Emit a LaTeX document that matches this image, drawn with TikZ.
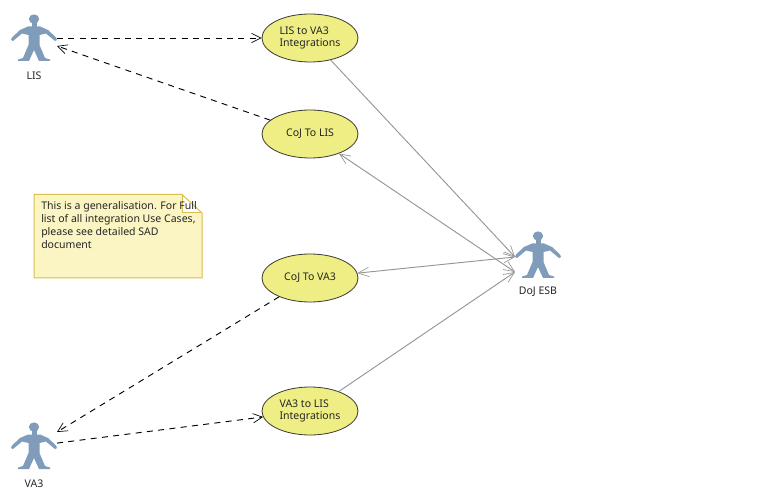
\documentclass[tikz,border=0pt]{standalone}
\usepackage{fontspec}
\setmainfont{Noto Sans}
\definecolor{ucfill}{HTML}{EFEE84}
\definecolor{ucline}{HTML}{3A3A30}
\definecolor{actorc}{HTML}{7F9DBB}
\definecolor{notefill}{HTML}{FBF5C4}
\definecolor{noteline}{HTML}{D9BF4E}
\definecolor{linkc}{HTML}{969696}
\tikzset{
  x=0.75pt,y=-0.75pt,
  uc/.style={ellipse,draw=ucline,line width=0.6pt,fill=ucfill,minimum width=72pt,minimum height=36pt,inner sep=0pt,align=left,font=\fontsize{7.9}{9.7}\selectfont,text=black!85},
  uctext/.style={inner sep=0pt,align=left,font=\fontsize{7.9}{9.7}\selectfont,text=black!85},
  actorbox/.style={rectangle,minimum width=34.5pt,minimum height=34.5pt,inner sep=0pt,outer sep=0pt},
  lbl/.style={font=\fontsize{7.9}{9}\selectfont,text=black!85,inner sep=0pt},
  dep/.style={dashed,dash pattern=on 4.5pt off 4pt,line width=0.7pt,black,-{Straight Barb[length=7pt,width=7pt,line width=0.5pt]}},
  linkh/.style={linkc,line width=0.7pt,-{Straight Barb[length=8pt,width=7pt,line width=0.5pt]}},
  linkb/.style={linkc,line width=0.7pt,{Straight Barb[length=8pt,width=7pt,line width=0.5pt]}-{Straight Barb[length=8pt,width=7pt,line width=0.5pt]}},
  pics/stick/.style={code={
    \fill[actorc] (0,-19) ellipse[x radius=5.2,y radius=4.6];
    \fill[actorc] (-2.5,-16) rectangle (2.5,-10);
    \fill[actorc] (-23,2) -- (-22,-0.5) -- (-14,-8) -- (-6,-11.5) -- (6,-11.5) -- (14,-8) -- (22,-0.5) -- (23,2) -- (21,3) -- (12,-4.5) -- (5.5,-3) -- (5.5,7) -- (11,20) -- (16,21.5) -- (16,23) -- (5,23) -- (0,12) -- (-5,23) -- (-16,23) -- (-16,21.5) -- (-11,20) -- (-5.5,7) -- (-5.5,-3) -- (-12,-4.5) -- (-21,3) -- cycle;
  }}
}
\usetikzlibrary{shapes.geometric,arrows.meta}
\begin{document}
\begin{tikzpicture}
\useasboundingbox (0,0) rectangle (768,499);
\fill[white] (0,0) rectangle (768,499);
% actors
\pic at (34,38) {stick};
\pic at (34,446) {stick};
\pic at (538,255) {stick};
\node[actorbox] (lis) at (34,38) {};
\node[actorbox] (va3) at (34,446) {};
\node[actorbox] (doj) at (538,255) {};
\node[lbl] (lisl) at (34,76) {LIS};
\node[lbl] (va3l) at (34,484) {VA3};
\node[lbl] (dojl) at (538,292) {DoJ ESB};
% use cases
\node[uc] (u1) at (310,38) {\raisebox{-1pt}{\begin{tabular}{@{}l@{}}LIS to VA3\\[-0.9pt]Integrations\end{tabular}}};
\node[uc] (u2) at (310,134) {\raisebox{-0.7pt}{CoJ To LIS}};
\node[uc] (u3) at (310,278) {\raisebox{-0.7pt}{CoJ To VA3}};
\node[uc] (u4) at (310,411) {\raisebox{-1pt}{\begin{tabular}{@{}l@{}}VA3 to LIS\\[-0.9pt]Integrations\end{tabular}}};
% note
\fill[notefill] (34,194.5) -- (182,194.5) -- (202,213) -- (202,278) -- (34,278) -- cycle;
\fill[white] (182,194.5) -- (202,213) -- (182,213) -- cycle;
\draw[noteline,line width=0.75pt] (34,194.5) -- (182,194.5) -- (202,213) -- (202,278) -- (34,278) -- cycle;
\draw[noteline,line width=0.75pt] (182,194.5) -- (182,213) -- (202,213);
\node[anchor=north west,inner sep=0pt,align=left,font=\fontsize{7.9}{9.75}\selectfont,text=black!85] (note) at (41,201) {This is a generalisation. For Full\\list of all integration Use Cases,\\please see detailed SAD\\document};
% connectors
\draw[dep] (lis.east) -- (u1);
\draw[dep] (u2) -- (lis);
\draw[dep] (u3) -- (va3);
\draw[dep] (va3) -- (u4);
\coordinate (dojhi) at (515,257);
\coordinate (dojlo) at (515,272);
\draw[linkh] (u1) -- (dojhi);
\draw[linkb] (u2) -- (dojlo);
\draw[linkb] (u3) -- (dojhi);
\draw[linkh] (u4) -- (dojlo);
\end{tikzpicture}
\end{document}
